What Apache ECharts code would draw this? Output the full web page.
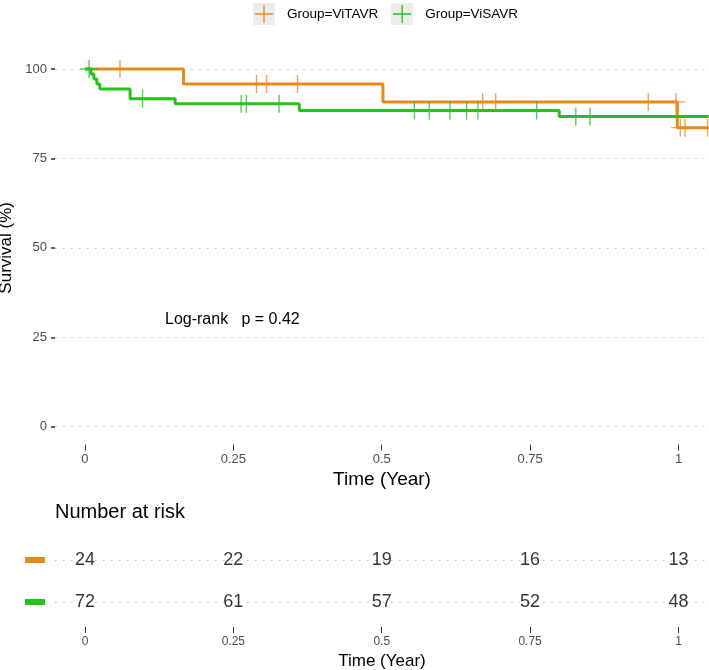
<!DOCTYPE html>
<html><head><meta charset="utf-8">
<script src="https://cdn.jsdelivr.net/npm/echarts@6/dist/echarts.min.js"></script>
<style>html,body{margin:0;padding:0;background:#fff}#c{width:709px;height:670px}</style>
</head><body><div id="c"></div>
<script>
// ---- data ----
const groups = ['Group=ViTAVR', 'Group=ViSAVR'];
const riskRows = ['ViTAVR', 'ViSAVR'];
const timeTicks = [0, 0.25, 0.5, 0.75, 1];
const survTicks = [0, 25, 50, 75, 100];
const tavrTime = [0, 0.166, 0.502, 0.998, 1.051];
const tavrSurv = [100, 95.83, 90.79, 83.6, 83.6];
const tavrCensor = [0.059, 0.289, 0.306, 0.358, 0.670, 0.692, 0.949, 0.996, 1.003, 1.011, 1.049];
const savrTime = [0, 0.010, 0.015, 0.020, 0.025, 0.076, 0.152, 0.361, 0.799, 1.051];
const savrSurv = [100, 98.61, 97.22, 95.83, 94.44, 91.67, 90.28, 88.4, 86.7, 86.7];
const savrCensor = [0.007, 0.097, 0.263, 0.272, 0.327, 0.555, 0.580, 0.615, 0.643, 0.662, 0.761, 0.827, 0.851];
const riskTimes = [0, 0.25, 0.5, 0.75, 1];
const riskTavr = [24, 22, 19, 16, 13];
const riskSavr = [72, 61, 57, 52, 48];
const pValueText = 'Log-rank   p = 0.42';

// ---- styling ----
const colors = ['#E8891C', '#23C31B'];
const FONT = '"Liberation Sans", Arial, Helvetica, sans-serif';
const plusPath = 'path://M9.25,0H10.75V20H9.25Z M0,9.25H20V10.75H0Z';
const gridDot = { color: '#bdbdbd', type: [1.5, 6.5], width: 1.2 };

function survAt(times, surv, t) {
  let v = surv[0];
  for (let i = 0; i < times.length; i++) if (times[i] <= t) v = surv[i];
  return v;
}
const pairs = (xs, ys) => xs.map((x, i) => [x, ys[i]]);

const xMin = -0.0505, xMax = 1.0514;

const chart = echarts.init(document.getElementById('c'), null, { renderer: 'canvas' });
const option = {
  animation: false,
  textStyle: { fontFamily: FONT },
  grid: [
    { left: 55, top: 51.1, width: 654, height: 393.5, containLabel: false, outerBoundsMode: 'none' },
    { left: 55, top: 539, width: 654, height: 84, containLabel: false, outerBoundsMode: 'none' }
  ],
  legend: {
    data: [{ name: groups[0], icon: plusPath }, { name: groups[1], icon: plusPath }],
    left: 255, top: 5, padding: 0, itemWidth: 18, itemHeight: 18, itemGap: 15,
    textStyle: { fontSize: 13.5, color: '#000', fontFamily: FONT, padding: [0, 0, 0, 9] },
    selectedMode: false
  },
  xAxis: [
    {
      type: 'value', gridIndex: 0, min: xMin, max: xMax, position: 'bottom',
      axisLine: { show: false, onZero: false },
      axisTick: { show: true, customValues: timeTicks, length: 6, lineStyle: { color: '#333', width: 1 } },
      axisLabel: { customValues: timeTicks, formatter: v => String(v), margin: 8, fontSize: 13, color: '#4d4d4d' },
      splitLine: { show: false },
      name: 'Time (Year)', nameLocation: 'middle', nameGap: 22,
      nameTextStyle: { fontSize: 19, color: '#000' }
    },
    {
      type: 'value', gridIndex: 1, min: xMin, max: xMax, offset: 4, position: 'bottom',
      axisLine: { show: false, onZero: false },
      axisTick: { show: true, customValues: timeTicks, length: 6, lineStyle: { color: '#333', width: 1 } },
      axisLabel: { customValues: timeTicks, formatter: v => String(v), margin: 9, fontSize: 12, color: '#4d4d4d' },
      splitLine: { show: false },
      name: 'Time (Year)', nameLocation: 'middle', nameGap: 26,
      nameTextStyle: { fontSize: 17, color: '#000' }
    }
  ],
  yAxis: [
    {
      type: 'value', gridIndex: 0, min: -5, max: 105, position: 'left',
      axisLine: { show: false, onZero: false },
      axisTick: { show: true, customValues: survTicks, length: 4, lineStyle: { color: '#333', width: 1.5 } },
      axisLabel: { customValues: survTicks, margin: 8, fontSize: 13, color: '#4d4d4d' },
      splitLine: { show: false },
      name: 'Survival (%)', nameLocation: 'middle', nameGap: 33,
      nameTextStyle: { fontSize: 17, color: '#000' }
    },
    {
      type: 'category', gridIndex: 1, data: riskRows, inverse: true, position: 'left',
      axisLine: { show: false, onZero: false }, axisTick: { show: false }, splitLine: { show: false },
      axisLabel: {
        margin: 10,
        formatter: v => (v === riskRows[0] ? '{a| }' : '{b| }'),
        rich: {
          a: { backgroundColor: colors[0], width: 20, height: 6, fontSize: 1, lineHeight: 6 },
          b: { backgroundColor: colors[1], width: 20, height: 6, fontSize: 1, lineHeight: 6 }
        }
      }
    }
  ],
  graphic: [
    { type: 'rect', left: 253, top: 3, shape: { width: 22, height: 22 }, style: { fill: '#ececec' }, z: -1, silent: true },
    { type: 'rect', left: 391, top: 3, shape: { width: 22, height: 22 }, style: { fill: '#ececec' }, z: -1, silent: true },
    { type: 'text', left: 165, top: 312, style: { text: pValueText, fontSize: 16, fill: '#000', fontFamily: FONT } },
    { type: 'text', left: 55, top: 502, style: { text: 'Number at risk', fontSize: 20, fill: '#000', fontFamily: FONT } }
  ],
  series: [
    {
      name: groups[0], type: 'line', xAxisIndex: 0, yAxisIndex: 0, step: 'end', symbol: 'none', z: 3,
      data: pairs(tavrTime, tavrSurv),
      lineStyle: { color: colors[0], width: 3 }, itemStyle: { color: colors[0] },
      markLine: {
        silent: true, symbol: ['none', 'none'], z: 1, label: { show: false },
        lineStyle: gridDot, emphasis: { disabled: true },
        data: survTicks.map(v => ({ yAxis: v }))
      }
    },
    {
      name: groups[1], type: 'line', xAxisIndex: 0, yAxisIndex: 0, step: 'end', symbol: 'none', z: 4,
      data: pairs(savrTime, savrSurv),
      lineStyle: { color: colors[1], width: 3 }, itemStyle: { color: colors[1] }
    },
    {
      name: groups[0], type: 'scatter', xAxisIndex: 0, yAxisIndex: 0, symbol: plusPath, symbolSize: 18, z: 5,
      data: tavrCensor.map(t => [t, survAt(tavrTime, tavrSurv, t)]),
      itemStyle: { color: colors[0] }, clip: false
    },
    {
      name: groups[1], type: 'scatter', xAxisIndex: 0, yAxisIndex: 0, symbol: plusPath, symbolSize: 18, z: 6,
      data: savrCensor.map(t => [t, survAt(savrTime, savrSurv, t)]),
      itemStyle: { color: colors[1] }, clip: false
    },
    {
      name: 'riskTavr', type: 'scatter', xAxisIndex: 1, yAxisIndex: 1, symbolSize: 0.1, z: 5,
      data: riskTimes.map((t, i) => [t, riskRows[0], riskTavr[i]]),
      itemStyle: { color: 'rgba(0,0,0,0)' },
      label: { show: true, position: 'inside', formatter: p => String(p.value[2]), fontSize: 18, color: '#000' },
      markLine: {
        silent: true, symbol: ['none', 'none'], z: 1, label: { show: false },
        lineStyle: gridDot, emphasis: { disabled: true },
        data: [{ yAxis: 0 }, { yAxis: 1 }]
      }
    },
    {
      name: 'riskSavr', type: 'scatter', xAxisIndex: 1, yAxisIndex: 1, symbolSize: 0.1, z: 5,
      data: riskTimes.map((t, i) => [t, riskRows[1], riskSavr[i]]),
      itemStyle: { color: 'rgba(0,0,0,0)' },
      label: { show: true, position: 'inside', formatter: p => String(p.value[2]), fontSize: 18, color: '#000' }
    }
  ]
};
chart.setOption(option);
</script>
</body></html>
